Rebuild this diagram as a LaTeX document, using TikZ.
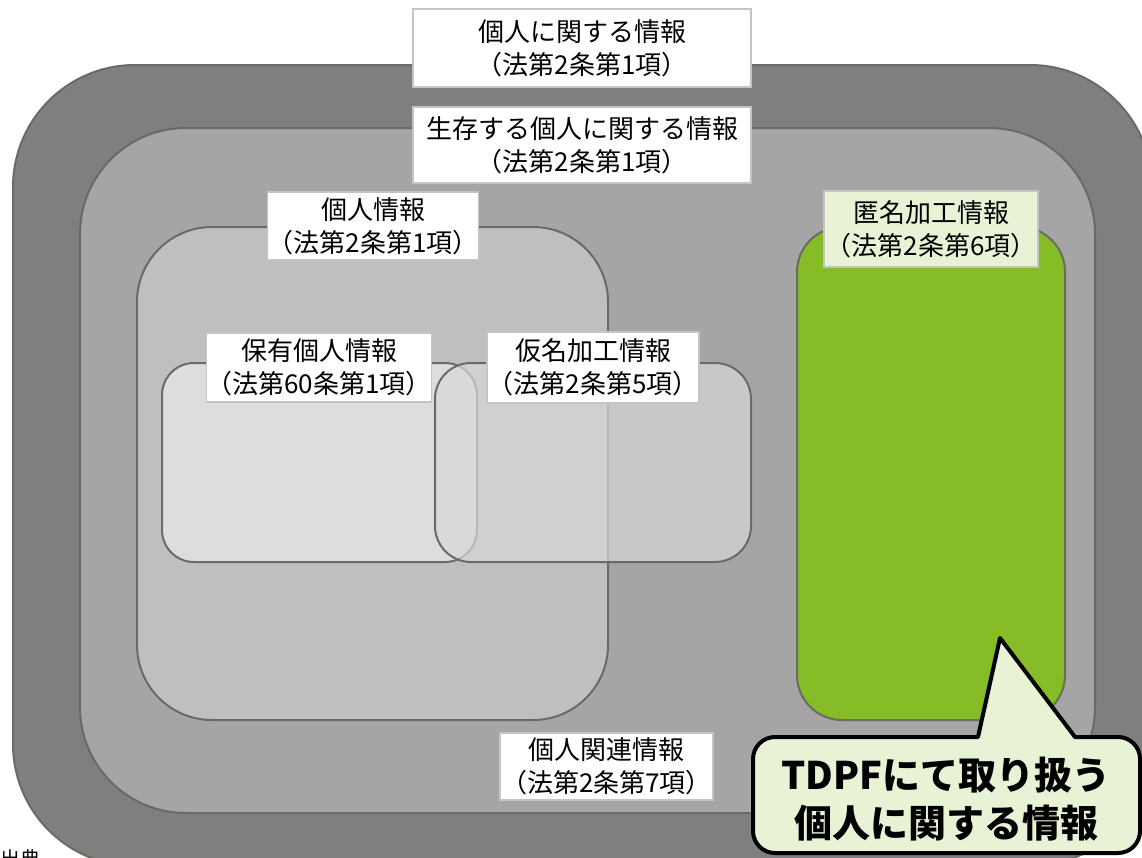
\documentclass[tikz,border=0pt]{standalone}
\usepackage{fontspec}
\setmainfont{Noto Sans CJK JP}
\definecolor{outerg}{HTML}{7F7F7F}
\definecolor{midg}{HTML}{A5A5A5}
\definecolor{pig}{HTML}{BFBFBF}
\definecolor{holdg}{HTML}{DCDDDF}
\definecolor{pseudog}{HTML}{D8D8D8}
\definecolor{anong}{HTML}{86BC25}
\definecolor{edgeg}{HTML}{6B6B63}
\definecolor{lblborder}{HTML}{C4C4C4}
\definecolor{palegreen}{HTML}{E8F3D6}
\begin{document}
\begin{tikzpicture}[x=1pt,y=-1pt,
  region/.style={draw=edgeg,line width=2pt},
  lbl/.style={draw=lblborder,fill=white,line width=1.5pt,align=center,inner sep=0pt,
    font=\fontsize{26}{33}\selectfont},
  ]
\useasboundingbox (0,0) rectangle (1142,857);
% regions
\draw[region,fill=outerg,rounded corners=122] (13,65) rectangle (1152,866);
\draw[region,fill=midg,rounded corners=106] (80,128) rectangle (1095,813);
\draw[region,fill=pig,rounded corners=75] (137,227) rectangle (608,720);
\draw[region,fill=holdg,rounded corners=32] (162,363) rectangle (477,562);
\fill[pseudog,fill opacity=0.7,rounded corners=36] (435,363) rectangle (751,562);
\draw[region,rounded corners=36] (435,363) rectangle (751,562);
\draw[region,fill=anong,rounded corners=45] (797,227) rectangle (1065,720);
% labels
\node[lbl,minimum width=338,minimum height=78] (l1) at (582,48) {個人に関する情報\\（法第2条第1項）};
\node[lbl,minimum width=338,minimum height=76] (l2) at (582,145) {生存する個人に関する情報\\（法第2条第1項）};
\node[lbl,minimum width=210,minimum height=68] (l3) at (373,226) {個人情報\\（法第2条第1項）};
\node[lbl,minimum width=212,minimum height=69] (l4) at (319,367.5) {保有個人情報\\（法第60条第1項）};
\node[lbl,minimum width=212,minimum height=71] (l5) at (593,367.5) {仮名加工情報\\（法第2条第5項）};
\node[lbl,fill=palegreen,minimum width=214,minimum height=76] (l6) at (931,229) {匿名加工情報\\（法第2条第6項）};
\node[lbl,minimum width=213,minimum height=67] (l7) at (606.5,766.5) {個人関連情報\\（法第2条第7項）};
% callout
\draw[line width=4pt,fill=palegreen,line join=round]
  (1000,638) -- (1075,737) [rounded corners=22] -- (1140,737) -- (1140,853) -- (753,853) -- (753,737) [sharp corners] -- (978,737) -- cycle;
\node[align=center,inner sep=0pt,font=\fontsize{38}{48}\selectfont\bfseries] (call) at (946,799) {TDPFにて取り扱う\\個人に関する情報};
% source (cut off)
\node[anchor=north west,inner sep=0pt,font=\fontsize{20}{24}\selectfont] (src) at (0,849) {出典};
\end{tikzpicture}
\end{document}
